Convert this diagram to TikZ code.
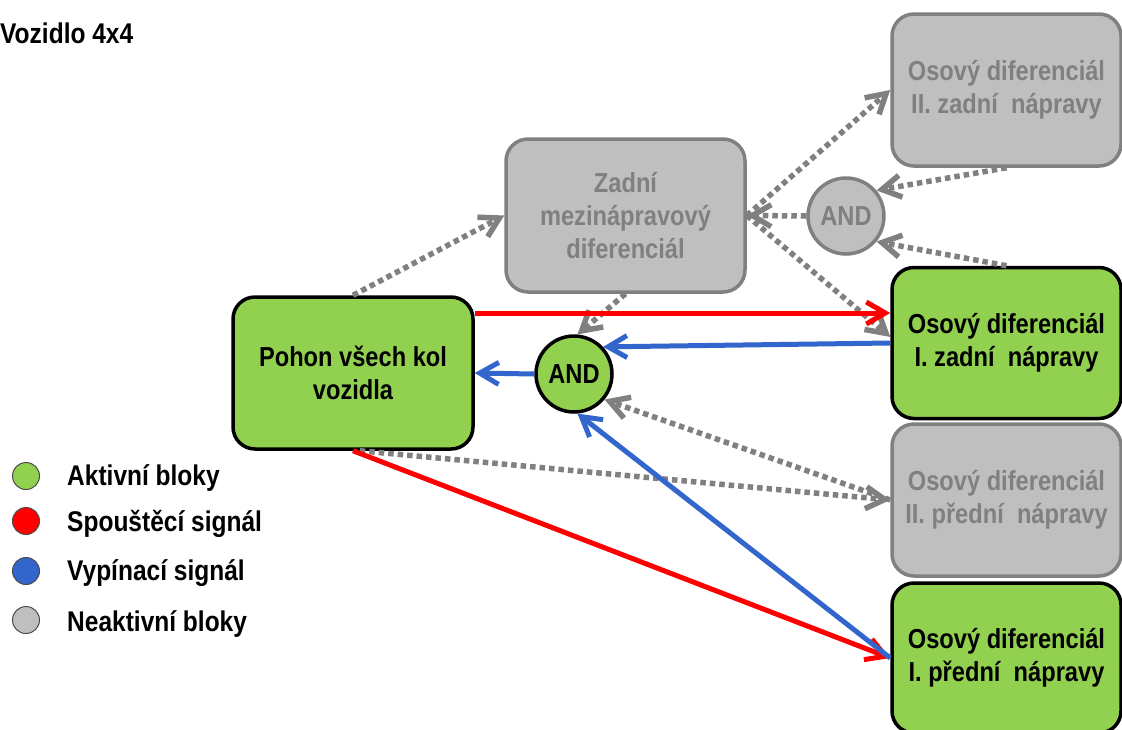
\documentclass[tikz,border=0pt]{standalone}
\usepackage{fontspec}
\setmainfont{Liberation Sans}[FakeStretch=0.86]
\usetikzlibrary{arrows.meta}
\definecolor{grn}{HTML}{92D050}
\definecolor{gfill}{HTML}{BFBFBF}
\definecolor{gline}{HTML}{808080}
\definecolor{sigred}{HTML}{FF0000}
\definecolor{sigblue}{HTML}{3366CC}
\begin{document}
\begin{tikzpicture}[x=1pt,y=-1pt,
  txt/.style={font=\fontsize{27.5}{33}\selectfont\bfseries},
  box/.style={txt, rectangle, rounded corners=22pt, line width=3.5pt, inner sep=0pt, align=center},
  active/.style={box, fill=grn, draw=black, text=black},
  inactive/.style={box, fill=gfill, draw=gline, text=gline},
  gate/.style={txt, circle, line width=3.5pt, inner sep=0pt, minimum size=76pt},
  tipbarb/.style={-{Straight Barb[length=19pt,width=22pt]}},
  redsig/.style={draw=sigred, line width=5pt, tipbarb},
  bluesig/.style={draw=sigblue, line width=5pt, tipbarb},
  graysig/.style={draw=gline, line width=5.5pt, dash pattern=on 5.5pt off 4pt, tipbarb},
  legcirc/.style={circle, minimum size=27pt, inner sep=0pt, draw=black!70, line width=1pt},
  legtxt/.style={font=\fontsize{28.5}{33}\selectfont\bfseries, anchor=base west, inner sep=0pt}
]
\useasboundingbox (0,0) rectangle (1122,729);

% title
\node[legtxt] (title) at (0,43) {Vozidlo 4x4};

% blocks
\node[active, minimum width=240pt, minimum height=152pt] (pohon) at (353,373) {Pohon všech kol\\vozidla};
\node[inactive, minimum width=239pt, minimum height=153pt] (zm) at (625.5,215.5) {Zadní\\mezinápravový\\diferenciál};
\node[inactive, minimum width=229pt, minimum height=152pt] (iiz) at (1006.5,90) {Osový diferenciál\\II. zadní~ nápravy};
\node[active, minimum width=229pt, minimum height=151pt] (iz) at (1006.5,343) {Osový diferenciál\\I. zadní~ nápravy};
\node[inactive, minimum width=229pt, minimum height=152pt] (iip) at (1006.5,500) {Osový diferenciál\\II. přední~ nápravy};
\node[active, minimum width=229pt, minimum height=150pt] (ip) at (1006.5,658) {Osový diferenciál\\I. přední~ nápravy};

% gates
\node[gate, fill=grn, draw=black, text=black] (and) at (574,374) {AND};
\node[gate, fill=gfill, draw=gline, text=gline] (andg) at (846,216) {AND};

% inactive (dotted) connectors
\draw[graysig] (pohon.north) -- (zm.west);
\draw[graysig] (zm.south) -- (and.85);
\draw[graysig] (zm.east) -- (iiz.west);
\draw[graysig] (andg.west) -- (zm.east);
\draw[graysig] (zm.east) -- (iz.177);
\draw[graysig] (iiz.south) -- (andg.40);
\draw[graysig] (iz.north) -- (andg.-40);
\draw[graysig] (pohon.-85) -- (iip.west);
\draw[graysig] (iip.west) -- (and.-40);

% trigger signals
\path (pohon.east) ++(0,-60) coordinate (rs);
\draw[redsig] (rs) -- (rs -| iz.west);
\draw[redsig] (pohon.south) -- (ip.west);

% switch-off signals
\draw[bluesig] (iz.west) -- (and.43);
\draw[bluesig] (and.west) -- (pohon.east);
\draw[bluesig] (ip.west) -- (and.-85);

% legend
\node[legcirc, fill=grn] (l1) at (26,476) {};
\node[legcirc, fill=sigred] (l2) at (26,521) {};
\node[legcirc, fill=sigblue] (l3) at (26,571) {};
\node[legcirc, fill=gfill] (l4) at (26,620) {};
\node[legtxt] (t1) at (67,485) {Aktivní bloky};
\node[legtxt] (t2) at (67,531) {Spouštěcí signál};
\node[legtxt] (t3) at (67,580) {Vypínací signál};
\node[legtxt] (t4) at (67,631) {Neaktivní bloky};
\end{tikzpicture}
\end{document}
